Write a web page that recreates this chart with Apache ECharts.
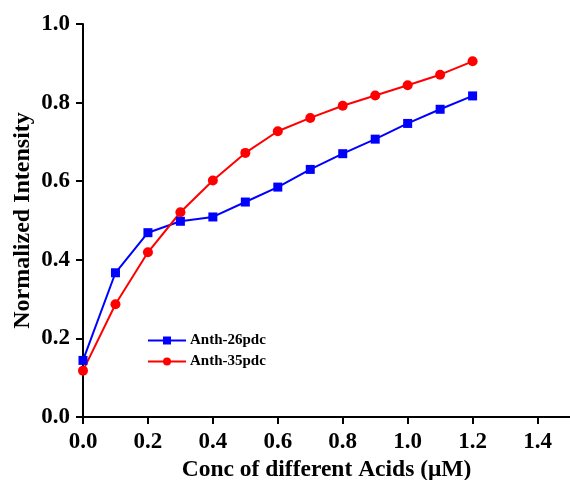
<!DOCTYPE html>
<html>
<head>
<meta charset="utf-8">
<script src="https://cdn.jsdelivr.net/npm/echarts@6/dist/echarts.min.js"></script>
<style>html,body{margin:0;padding:0;background:#fff}#c{width:570px;height:480px}</style>
</head>
<body>
<div id="c"></div>
<script>
const xValues = [0.0, 0.1, 0.2, 0.3, 0.4, 0.5, 0.6, 0.7, 0.8, 0.9, 1.0, 1.1, 1.2];
const anth26 = [0.144, 0.367, 0.469, 0.498, 0.509, 0.547, 0.585, 0.630, 0.670, 0.707, 0.747, 0.783, 0.817];
const anth35 = [0.118, 0.287, 0.419, 0.521, 0.602, 0.672, 0.727, 0.761, 0.792, 0.818, 0.844, 0.871, 0.905];
const seriesNames = ['Anth-26pdc', 'Anth-35pdc'];
const xTicks = [0, 0.2, 0.4, 0.6, 0.8, 1.0, 1.2, 1.4];
const yTicks = [0, 0.2, 0.4, 0.6, 0.8, 1.0];

const font = '"Liberation Serif", "Times New Roman", serif';
const chart = echarts.init(document.getElementById('c'));
chart.setOption({
  animation: false,
  backgroundColor: '#fff',
  grid: { left: 83, right: 0, top: 24, bottom: 63, containLabel: false, outerBoundsMode: 'none' },
  legend: {
    orient: 'vertical', left: 147, top: 333, padding: 0, itemWidth: 38, itemHeight: 10, itemGap: 6,
    textStyle: { fontFamily: font, fontWeight: 'bold', fontSize: 15, color: '#000', padding: [0, 0, 0, -1] },
    data: seriesNames
  },
  xAxis: {
    type: 'value', min: 0, max: 1.5, interval: 0.2,
    name: 'Conc of different Acids (\u03bcM)', nameLocation: 'middle', nameGap: 41, nameMoveOverlap: false,
    nameTextStyle: { fontFamily: font, fontWeight: 'bold', fontSize: 23.5, color: '#000' },
    axisLine: { lineStyle: { color: '#000', width: 2 } },
    axisTick: { length: 7, lineStyle: { color: '#000', width: 2 }, customValues: xTicks },
    axisLabel: { customValues: xTicks, formatter: v => v.toFixed(1), margin: 14,
      fontFamily: font, fontWeight: 'bold', fontSize: 23, color: '#000' },
    splitLine: { show: false }
  },
  yAxis: {
    type: 'value', min: 0, max: 1.0, interval: 0.2,
    name: 'Normalized Intensity', nameLocation: 'middle', nameGap: 48, nameMoveOverlap: false,
    nameTextStyle: { fontFamily: font, fontWeight: 'bold', fontSize: 24, color: '#000' },
    axisLine: { show: true, lineStyle: { color: '#000', width: 2 } },
    axisTick: { show: true, length: 7, lineStyle: { color: '#000', width: 2 }, customValues: yTicks },
    axisLabel: { customValues: yTicks, formatter: v => v.toFixed(1), margin: 13,
      fontFamily: font, fontWeight: 'bold', fontSize: 23, color: '#000' },
    splitLine: { show: false }
  },
  series: [
    { name: seriesNames[0], type: 'line', data: xValues.map((x, i) => [x, anth26[i]]),
      symbol: 'rect', symbolSize: 9, color: '#0000ff', lineStyle: { width: 2, color: '#0000ff' },
      itemStyle: { color: '#0000ff' } },
    { name: seriesNames[1], type: 'line', data: xValues.map((x, i) => [x, anth35[i]]),
      symbol: 'circle', symbolSize: 10, color: '#ff0000', lineStyle: { width: 2, color: '#ff0000' },
      itemStyle: { color: '#ff0000' } }
  ]
});
</script>
</body>
</html>
